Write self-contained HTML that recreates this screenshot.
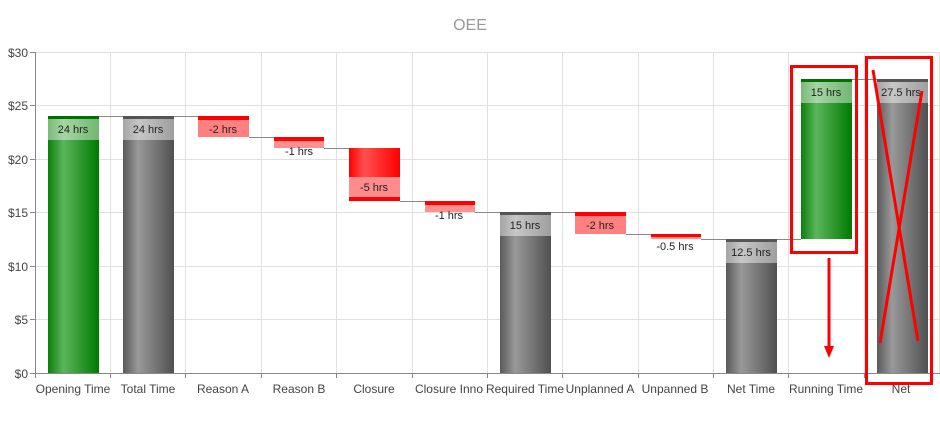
<!DOCTYPE html>
<html><head><meta charset="utf-8"><style>
body{margin:0;background:#fff;}
svg{display:block;font-family:"Liberation Sans",Arial,sans-serif;}
</style></head><body>
<svg width="940" height="443" xmlns="http://www.w3.org/2000/svg">
<defs>
<linearGradient id="g" x1="0" x2="1"><stop offset="0" stop-color="#0a7f0a"/><stop offset="0.3" stop-color="#5cb55c"/><stop offset="1" stop-color="#007a00"/></linearGradient>
<linearGradient id="k" x1="0" x2="1"><stop offset="0" stop-color="#5a5a5a"/><stop offset="0.3" stop-color="#999"/><stop offset="1" stop-color="#505050"/></linearGradient>
<linearGradient id="r" x1="0" x2="1"><stop offset="0" stop-color="#f00"/><stop offset="0.3" stop-color="#ff5050"/><stop offset="1" stop-color="#f00"/></linearGradient>
</defs>
<text x="470" y="30" text-anchor="middle" font-size="16" fill="#999">OEE</text>
<g stroke="#e0e0e0" stroke-width="1">
<line x1="35" y1="52.5" x2="940" y2="52.5"/><line x1="35" y1="105.5" x2="940" y2="105.5"/><line x1="35" y1="159.5" x2="940" y2="159.5"/><line x1="35" y1="212.5" x2="940" y2="212.5"/><line x1="35" y1="266.5" x2="940" y2="266.5"/><line x1="35" y1="319.5" x2="940" y2="319.5"/>
<line x1="110.5" y1="52" x2="110.5" y2="373"/><line x1="185.5" y1="52" x2="185.5" y2="373"/><line x1="261.5" y1="52" x2="261.5" y2="373"/><line x1="336.5" y1="52" x2="336.5" y2="373"/><line x1="412.5" y1="52" x2="412.5" y2="373"/><line x1="487.5" y1="52" x2="487.5" y2="373"/><line x1="562.5" y1="52" x2="562.5" y2="373"/><line x1="638.5" y1="52" x2="638.5" y2="373"/><line x1="713.5" y1="52" x2="713.5" y2="373"/><line x1="788.5" y1="52" x2="788.5" y2="373"/><line x1="864.5" y1="52" x2="864.5" y2="373"/><line x1="939.5" y1="52" x2="939.5" y2="373"/>
</g>
<g stroke="#888"><line x1="35.5" y1="52" x2="35.5" y2="378"/><line x1="30" y1="373.5" x2="940" y2="373.5"/>
<line x1="30" y1="52.5" x2="35" y2="52.5"/><line x1="30" y1="105.5" x2="35" y2="105.5"/><line x1="30" y1="159.5" x2="35" y2="159.5"/><line x1="30" y1="212.5" x2="35" y2="212.5"/><line x1="30" y1="266.5" x2="35" y2="266.5"/><line x1="30" y1="319.5" x2="35" y2="319.5"/>
<line x1="110.5" y1="373" x2="110.5" y2="378"/><line x1="185.5" y1="373" x2="185.5" y2="378"/><line x1="261.5" y1="373" x2="261.5" y2="378"/><line x1="336.5" y1="373" x2="336.5" y2="378"/><line x1="412.5" y1="373" x2="412.5" y2="378"/><line x1="487.5" y1="373" x2="487.5" y2="378"/><line x1="562.5" y1="373" x2="562.5" y2="378"/><line x1="638.5" y1="373" x2="638.5" y2="378"/><line x1="713.5" y1="373" x2="713.5" y2="378"/><line x1="788.5" y1="373" x2="788.5" y2="378"/><line x1="864.5" y1="373" x2="864.5" y2="378"/></g>
<g font-size="12" fill="#444" text-anchor="end">
<text x="28" y="57">$30</text><text x="28" y="110">$25</text><text x="28" y="164">$20</text><text x="28" y="217">$15</text><text x="28" y="271">$10</text><text x="28" y="324">$5</text><text x="28" y="378">$0</text></g>
<g font-size="12" fill="#444" text-anchor="middle">
<text x="73" y="393">Opening Time</text><text x="148" y="393">Total Time</text><text x="223" y="393">Reason A</text><text x="299" y="393">Reason B</text><text x="374" y="393">Closure</text><text x="449" y="393">Closure Inno</text><text x="525" y="393">Required Time</text><text x="600" y="393">Unplanned A</text><text x="675" y="393">Unpanned B</text><text x="751" y="393">Net Time</text><text x="826" y="393">Running Time</text><text x="901" y="393">Net</text></g>
<!-- connectors -->
<g stroke="#888" stroke-width="1">
<line x1="99" y1="116.5" x2="198" y2="116.5"/><line x1="249" y1="137.5" x2="274" y2="137.5"/><line x1="324" y1="148.5" x2="349" y2="148.5"/><line x1="400" y1="201.5" x2="425" y2="201.5"/><line x1="475" y1="212.5" x2="575" y2="212.5"/><line x1="626" y1="234.5" x2="651" y2="234.5"/><line x1="701" y1="239.5" x2="801" y2="239.5"/><line x1="852" y1="79.5" x2="877" y2="79.5"/></g>
<!-- bars -->
<rect x="48" y="116" width="51" height="257" fill="url(#g)"/><rect x="48" y="116" width="51" height="3" fill="#007000"/>
<rect x="123" y="116" width="51" height="257" fill="url(#k)"/><rect x="123" y="116" width="51" height="3" fill="#555"/>
<rect x="198" y="116" width="51" height="21" fill="#ff8080"/><rect x="198" y="116" width="51" height="4" fill="#f00"/>
<rect x="274" y="137" width="50" height="11" fill="#ff9090"/><rect x="274" y="137" width="50" height="4" fill="#f00"/>
<rect x="349" y="148" width="51" height="53" fill="url(#r)"/><rect x="349" y="177" width="51" height="20" fill="#ff8c8c"/><rect x="349" y="197" width="51" height="4" fill="#f00"/>
<rect x="425" y="201" width="50" height="11" fill="#ff9090"/><rect x="425" y="201" width="50" height="4" fill="#f00"/>
<rect x="500" y="212" width="51" height="161" fill="url(#k)"/><rect x="500" y="212" width="51" height="3" fill="#555"/>
<rect x="575" y="212" width="51" height="22" fill="#ff8080"/><rect x="575" y="212" width="51" height="4" fill="#f00"/>
<rect x="651" y="234" width="50" height="5" fill="#ff9090"/><rect x="651" y="234" width="50" height="3" fill="#f00"/>
<rect x="726" y="239" width="51" height="134" fill="url(#k)"/><rect x="726" y="239" width="51" height="3" fill="#555"/>
<rect x="801" y="79" width="51" height="160" fill="url(#g)"/><rect x="801" y="79" width="51" height="3" fill="#007000"/>
<rect x="877" y="79" width="51" height="294" fill="url(#k)"/><rect x="877" y="79" width="51" height="3" fill="#555"/>
<!-- label boxes -->
<g fill="#fff" fill-opacity="0.45">
<rect x="48" y="119" width="51" height="21"/><rect x="123" y="119" width="51" height="21"/><rect x="500" y="215" width="51" height="21"/><rect x="726" y="242" width="51" height="21"/><rect x="801" y="82" width="51" height="21"/><rect x="877" y="82" width="51" height="21"/></g>
<g font-size="11" fill="#222" text-anchor="middle">
<text x="73" y="133">24 hrs</text><text x="148" y="133">24 hrs</text><text x="223" y="133">-2 hrs</text><text x="299" y="155">-1 hrs</text><text x="374" y="191">-5 hrs</text><text x="449" y="219">-1 hrs</text><text x="525" y="229">15 hrs</text><text x="600" y="229">-2 hrs</text><text x="675" y="250">-0.5 hrs</text><text x="751" y="256">12.5 hrs</text><text x="826" y="96">15 hrs</text><text x="901" y="96">27.5 hrs</text></g>
<!-- annotations -->
<g stroke="#f00" stroke-width="3" fill="none">
<rect x="791.5" y="66.5" width="65" height="186"/><rect x="866.5" y="57.5" width="65" height="326"/>
<line x1="873" y1="70" x2="918" y2="341"/><line x1="922" y1="91" x2="880" y2="343"/>
<line x1="829" y1="258" x2="829" y2="348"/></g>
<polygon points="824,346 834,346 829,358" fill="#f00"/>
</svg>
</body></html>
